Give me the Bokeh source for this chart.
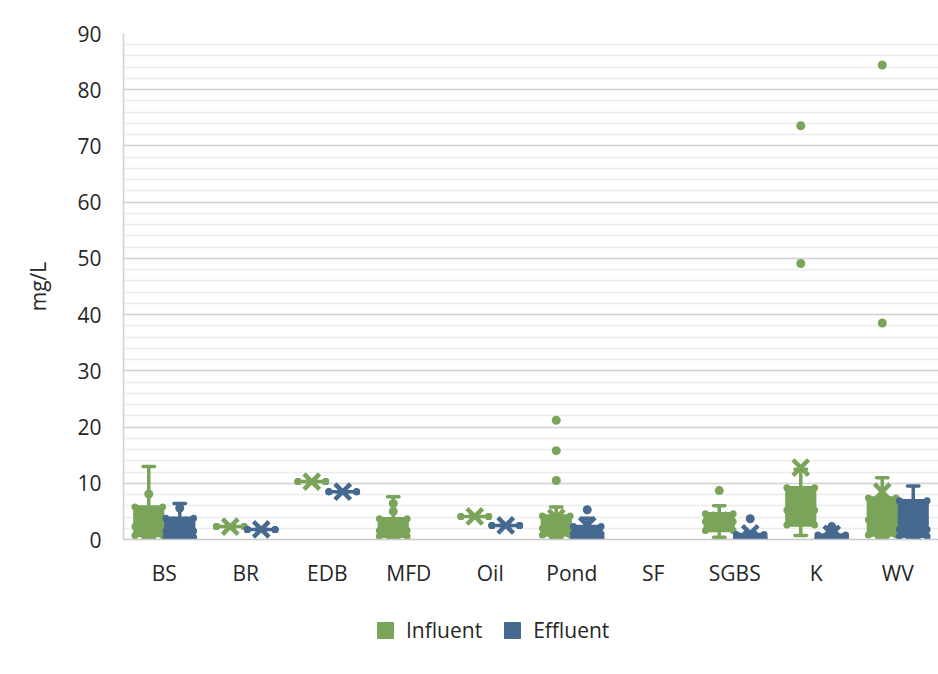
import math
from bokeh.plotting import figure
from bokeh.layouts import column
from bokeh.models import (ColumnDataSource, FactorRange, Range1d, SingleIntervalTicker,
                          Legend, LegendItem)
from bokeh.transform import dodge
from bokeh.embed import file_html
from bokeh.resources import INLINE

nan = float("nan")

categories = ["BS", "BR", "EDB", "MFD", "Oil", "Pond", "SF", "SGBS", "K", "WV"]

# Influent statistics (mg/L)
inf_min  = [0.3, 2.3, 10.3, 0.3, 4.1, 0.3, nan, 0.4, 0.7, 0.4]
inf_q1   = [0.7, 2.3, 10.3, 0.6, 4.1, 0.8, nan, 1.6, 2.6, 0.8]
inf_med  = [2.3, 2.3, 10.3, 1.6, 4.1, 2.0, nan, 3.2, 5.2, 3.5]
inf_q3   = [5.8, 2.3, 10.3, 3.7, 4.1, 4.2, nan, 4.6, 9.2, 7.4]
inf_max  = [13.0, 2.3, 10.3, 7.6, 4.1, 5.8, nan, 6.0, 12.5, 11.0]
inf_mean = [3.9, 2.3, 10.3, 2.4, 4.1, 3.9, nan, 3.4, 12.8, 8.5]
inf_pts_cat = ["BS", "MFD", "MFD", "Pond", "Pond", "Pond", "SGBS", "K", "K", "WV", "WV"]
inf_pts_val = [8.1, 6.4, 5.0, 21.2, 15.8, 10.5, 8.7, 73.6, 49.1, 84.4, 38.5]

# Effluent statistics (mg/L)
eff_min  = [0.1, 1.8, 8.5, nan, 2.5, 0.1, nan, 0.05, 0.05, 0.2]
eff_q1   = [0.4, 1.8, 8.5, nan, 2.5, 0.3, nan, 0.1, 0.1, 0.6]
eff_med  = [1.5, 1.8, 8.5, nan, 2.5, 1.0, nan, 0.3, 0.3, 1.8]
eff_q3   = [3.8, 1.8, 8.5, nan, 2.5, 2.3, nan, 0.9, 0.8, 6.9]
eff_max  = [6.4, 1.8, 8.5, nan, 2.5, 3.8, nan, 1.2, 1.1, 9.5]
eff_mean = [2.5, 1.8, 8.5, nan, 2.5, 2.5, nan, 1.1, 1.0, 3.6]
eff_pts_cat = ["BS", "Pond", "SGBS", "K"]
eff_pts_val = [5.6, 5.3, 3.7, 2.3]

series_names = ["Influent", "Effluent"]

GREEN = "#79a45a"
BLUE = "#46698f"
TEXT = "#262626"
FONT = "Open Sans"
FS = "21px"

p = figure(width=938, height=608, output_backend="svg", toolbar_location=None,
           x_range=FactorRange(*categories), y_range=Range1d(0, 90),
           min_border_left=123, min_border_right=0, min_border_top=33,
           min_border_bottom=69)
p.background_fill_color = "white"
p.border_fill_color = "white"
p.outline_line_color = None

# grid
p.xgrid.grid_line_color = None
p.yaxis.ticker = SingleIntervalTicker(interval=10, num_minor_ticks=5)
p.ygrid.grid_line_color = "#d4d4d4"
p.ygrid.grid_line_width = 1.5
p.ygrid.minor_grid_line_color = "#ebebeb"
p.ygrid.minor_grid_line_width = 1.5

# axes
for ax in (p.xaxis[0], p.yaxis[0]):
    ax.major_tick_line_color = None
    ax.minor_tick_line_color = None
    ax.major_label_text_font = FONT
    ax.major_label_text_font_size = FS
    ax.major_label_text_color = TEXT
p.yaxis.axis_line_color = "#d0d0d0"
p.yaxis.axis_line_width = 1.5
p.xaxis.axis_line_color = "#c8c8c8"
p.xaxis.axis_line_width = 1.5
p.yaxis.major_label_standoff = 16
p.xaxis.major_label_standoff = 13
p.yaxis.axis_label = "mg/L"
p.yaxis.axis_label_text_font = FONT
p.yaxis.axis_label_text_font_size = FS
p.yaxis.axis_label_text_font_style = "normal"
p.yaxis.axis_label_text_color = TEXT
p.yaxis.axis_label_standoff = 22

BOX_W = 0.34
CAP = 0.07


def draw_series(vmin, q1, med, q3, vmax, mean, pcat, pval, off, color):
    src = ColumnDataSource(dict(cat=categories, vmin=vmin, q1=q1, med=med, q3=q3,
                                vmax=vmax, mean=mean))
    xc = dodge("cat", off, range=p.x_range)
    xl = dodge("cat", off - CAP, range=p.x_range)
    xr = dodge("cat", off + CAP, range=p.x_range)
    bl = dodge("cat", off - BOX_W / 2, range=p.x_range)
    br = dodge("cat", off + BOX_W / 2, range=p.x_range)
    # whiskers
    p.segment(x0=xc, y0="vmin", x1=xc, y1="q1", source=src, line_color=color, line_width=3.5)
    p.segment(x0=xc, y0="q3", x1=xc, y1="vmax", source=src, line_color=color, line_width=3.5)
    p.segment(x0=xl, y0="vmin", x1=xr, y1="vmin", source=src, line_color=color,
              line_width=3.5, line_cap="round")
    p.segment(x0=xl, y0="vmax", x1=xr, y1="vmax", source=src, line_color=color,
              line_width=3.5, line_cap="round")
    # box
    p.vbar(x=xc, width=BOX_W, bottom="q1", top="q3", source=src,
           fill_color=color, line_color=color, line_width=3.5, line_join="round")
    # rounded bumps at box edges (quartiles and median line ends)
    for col in ("q1", "med", "q3"):
        p.scatter(x=bl, y=col, source=src, size=7, marker="circle",
                  fill_color=color, line_color=None)
        p.scatter(x=br, y=col, source=src, size=7, marker="circle",
                  fill_color=color, line_color=None)
    # mean marker
    p.scatter(x=xc, y="mean", source=src, marker="x", size=22,
              line_color=color, line_width=4.5)
    # data points outside the box
    psrc = ColumnDataSource(dict(cat=pcat, val=pval))
    p.scatter(x=dodge("cat", off, range=p.x_range), y="val", source=psrc, marker="circle",
              size=9, fill_color=color, line_color=None)


draw_series(inf_min, inf_q1, inf_med, inf_q3, inf_max, inf_mean,
            inf_pts_cat, inf_pts_val, -0.19, GREEN)
draw_series(eff_min, eff_q1, eff_med, eff_q3, eff_max, eff_mean,
            eff_pts_cat, eff_pts_val, 0.19, BLUE)

# legend strip below the chart (legend proxies hold no drawable data)
lg = figure(width=938, height=64, output_backend="svg", toolbar_location=None,
            x_range=Range1d(0, 1), y_range=Range1d(0, 1),
            min_border=0, min_border_left=0, min_border_right=0,
            min_border_top=0, min_border_bottom=0)
lg.axis.visible = False
lg.grid.visible = False
lg.outline_line_color = None
lg.background_fill_color = "white"
lg.border_fill_color = "white"
proxy = ColumnDataSource(dict(x=[nan], top=[nan]))
r1 = lg.vbar(x="x", top="top", width=0.1, source=proxy, fill_color=GREEN, line_color=GREEN)
r2 = lg.vbar(x="x", top="top", width=0.1, source=proxy, fill_color=BLUE, line_color=BLUE)

legend = Legend(items=[LegendItem(label=series_names[0], renderers=[r1]),
                       LegendItem(label=series_names[1], renderers=[r2])],
                orientation="horizontal", location=(252, 28))
legend.label_text_font = FONT
legend.label_text_font_size = FS
legend.label_text_color = TEXT
legend.glyph_width = 20
legend.glyph_height = 20
legend.label_standoff = 11
legend.spacing = 20
legend.padding = 10
legend.margin = 0
legend.border_line_color = None
legend.background_fill_alpha = 0
lg.add_layout(legend, "center")

open("out.html", "w").write(file_html(column(p, lg, spacing=0), INLINE))
